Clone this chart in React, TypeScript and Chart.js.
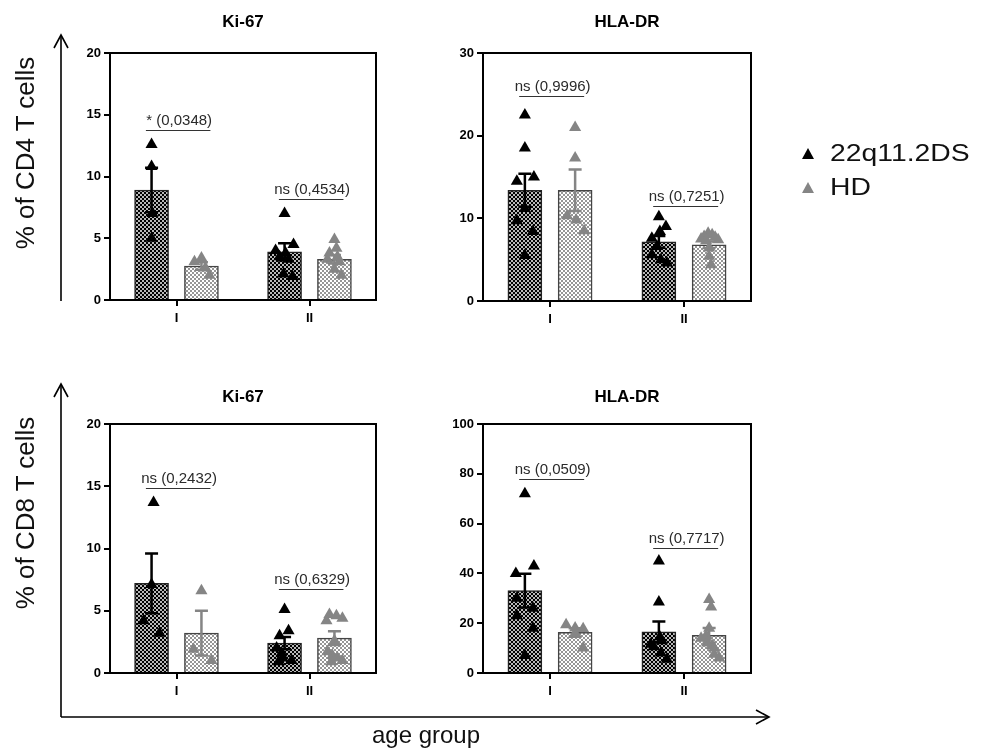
import React, { useEffect, useRef } from 'react';
import { Chart, registerables } from 'chart.js';

Chart.register(...registerables);

const FONT = "Arial, 'Liberation Sans', Helvetica, sans-serif";
Chart.defaults.font.family = FONT;

const categories = ['I', 'II'];
const seriesNames = ['22q11.2DS', 'HD'];
const colors22q = '#000000';
const colorsHD = '#858585';

// ---- CD4 Ki-67 ----
const cd4Ki67_22q_I = [12.6, 10.8, 7.0, 5.0];
const cd4Ki67_22q_II = [7.0, 4.5, 4.0, 3.8, 3.5, 3.3, 2.1, 1.9];
const cd4Ki67_HD_I = [3.4, 3.1, 2.6, 2.0];
const cd4Ki67_HD_II = [4.9, 4.2, 3.8, 3.5, 3.3, 3.1, 2.5, 2.0];
const cd4Ki67_mean22q = [8.9, 3.9];
const cd4Ki67_sem22q = [1.8, 0.7];
const cd4Ki67_meanHD = [2.75, 3.3];
const cd4Ki67_semHD = [0.3, 0.35];
const cd4Ki67_sig = ['* (0,0348)', 'ns (0,4534)'];
const cd4Ki67_sigLevel = [13.8, 8.2];

// ---- CD4 HLA-DR ----
const cd4Hla_22q_I = [22.5, 18.5, 15.0, 14.5, 11.2, 9.7, 8.4, 5.5];
const cd4Hla_22q_II = [10.2, 9.0, 8.4, 7.6, 6.6, 5.6, 5.0, 4.6];
const cd4Hla_HD_I = [21.0, 17.3, 10.3, 9.8, 8.5];
const cd4Hla_HD_II = [8.2, 8.0, 7.8, 7.7, 7.5, 7.4, 7.3, 6.4, 5.4, 4.4];
const cd4Hla_mean22q = [13.4, 7.15];
const cd4Hla_sem22q = [2.0, 0.7];
const cd4Hla_meanHD = [13.4, 6.8];
const cd4Hla_semHD = [2.5, 0.4];
const cd4Hla_sig = ['ns (0,9996)', 'ns (0,7251)'];
const cd4Hla_sigLevel = [24.8, 11.45];

// ---- CD8 Ki-67 ----
const cd8Ki67_22q_I = [13.7, 7.1, 4.2, 3.2];
const cd8Ki67_22q_II = [5.1, 3.4, 3.0, 2.0, 1.6, 1.2, 1.0, 0.9];
const cd8Ki67_HD_I = [6.6, 1.9, 1.0];
const cd8Ki67_HD_II = [4.7, 4.6, 4.4, 4.2, 2.6, 1.7, 1.4, 1.2, 1.0, 0.9];
const cd8Ki67_mean22q = [7.2, 2.4];
const cd8Ki67_sem22q = [2.4, 0.5];
const cd8Ki67_meanHD = [3.2, 2.8];
const cd8Ki67_semHD = [1.8, 0.55];
const cd8Ki67_sig = ['ns (0,2432)', 'ns (0,6329)'];
const cd8Ki67_sigLevel = [14.85, 6.75];

// ---- CD8 HLA-DR ----
const cd8Hla_22q_I = [72, 43, 40, 30, 26, 23, 18, 7];
const cd8Hla_22q_II = [45, 28.5, 14.5, 13, 11.5, 10.5, 8, 5.5];
const cd8Hla_HD_I = [19.4, 18.1, 17.8, 16.0, 10.0];
const cd8Hla_HD_II = [29.5, 26.5, 18, 15, 14, 12, 11, 10, 7.5, 6];
const cd8Hla_mean22q = [33.1, 16.5];
const cd8Hla_sem22q = [6.8, 4.2];
const cd8Hla_meanHD = [16.3, 15.1];
const cd8Hla_semHD = [1.7, 3.0];
const cd8Hla_sig = ['ns (0,0509)', 'ns (0,7717)'];
const cd8Hla_sigLevel = [78, 50.3];

// horizontal spread of overlapping points (scatter-dot layout)
const jit_cd4Ki67_22q = [[0, 0, 1, 0], [0, 9, -9, 1, -5, 4, -1, 8]];
const jit_cd4Ki67_HD = [[0, -7, 4, 8], [0, 2, -5, 3, -7, 5, 0, 7]];
const jit_cd4Hla_22q = [[0, 0, 9, -8, 0, -8, 8, 0], [0, 7, 1, -7, -2, -7, 2, 8]];
const jit_cd4Hla_HD = [[0, 0, -8, 1, 9], [-1, 3, -5, 6, -8, 9, -3, 0, 0, 2]];
const jit_cd8Ki67_22q = [[2, 0, -8, 8], [0, 4, -5, -8, -3, -2, 7, -6]];
const jit_cd8Ki67_HD = [[0, -8, 10], [-5, 2, 8, -8, 0, -7, -2, 3, 8, -3]];
const jit_cd8Hla_22q = [[0, 9, -9, -8, 8, -8, 8, 0], [0, 0, 1, 3, -8, -5, 2, 8]];
const jit_cd8Hla_HD = [[-9, 0, 8, 0, 8], [0, 2, 0, -3, -8, -2, 3, 5, 5, 10]];

const yMaxes = [20, 30, 20, 100];
const ySteps = [5, 10, 5, 20];
const titles = ['Ki-67', 'HLA-DR', 'Ki-67', 'HLA-DR'];

type PanelData = {
  title: string;
  yMax: number;
  yStep: number;
  pts22q: number[][];
  ptsHD: number[][];
  jit22q: number[][];
  jitHD: number[][];
  mean22q: number[];
  sem22q: number[];
  meanHD: number[];
  semHD: number[];
  sig: string[];
  sigLevel: number[];
};

const panelsData: PanelData[] = [
  {
    title: titles[0], yMax: yMaxes[0], yStep: ySteps[0],
    pts22q: [cd4Ki67_22q_I, cd4Ki67_22q_II], ptsHD: [cd4Ki67_HD_I, cd4Ki67_HD_II],
    jit22q: jit_cd4Ki67_22q, jitHD: jit_cd4Ki67_HD,
    mean22q: cd4Ki67_mean22q, sem22q: cd4Ki67_sem22q, meanHD: cd4Ki67_meanHD, semHD: cd4Ki67_semHD,
    sig: cd4Ki67_sig, sigLevel: cd4Ki67_sigLevel,
  },
  {
    title: titles[1], yMax: yMaxes[1], yStep: ySteps[1],
    pts22q: [cd4Hla_22q_I, cd4Hla_22q_II], ptsHD: [cd4Hla_HD_I, cd4Hla_HD_II],
    jit22q: jit_cd4Hla_22q, jitHD: jit_cd4Hla_HD,
    mean22q: cd4Hla_mean22q, sem22q: cd4Hla_sem22q, meanHD: cd4Hla_meanHD, semHD: cd4Hla_semHD,
    sig: cd4Hla_sig, sigLevel: cd4Hla_sigLevel,
  },
  {
    title: titles[2], yMax: yMaxes[2], yStep: ySteps[2],
    pts22q: [cd8Ki67_22q_I, cd8Ki67_22q_II], ptsHD: [cd8Ki67_HD_I, cd8Ki67_HD_II],
    jit22q: jit_cd8Ki67_22q, jitHD: jit_cd8Ki67_HD,
    mean22q: cd8Ki67_mean22q, sem22q: cd8Ki67_sem22q, meanHD: cd8Ki67_meanHD, semHD: cd8Ki67_semHD,
    sig: cd8Ki67_sig, sigLevel: cd8Ki67_sigLevel,
  },
  {
    title: titles[3], yMax: yMaxes[3], yStep: ySteps[3],
    pts22q: [cd8Hla_22q_I, cd8Hla_22q_II], ptsHD: [cd8Hla_HD_I, cd8Hla_HD_II],
    jit22q: jit_cd8Hla_22q, jitHD: jit_cd8Hla_HD,
    mean22q: cd8Hla_mean22q, sem22q: cd8Hla_sem22q, meanHD: cd8Hla_meanHD, semHD: cd8Hla_semHD,
    sig: cd8Hla_sig, sigLevel: cd8Hla_sigLevel,
  },
];

// plot-area boxes (page pixels)
const panelBoxes = [
  { left: 110, top: 53, right: 376, bottom: 300, titleGap: 31, titleDx: 0 },
  { left: 483, top: 53, right: 751, bottom: 301, titleGap: 31, titleDx: 10 },
  { left: 110, top: 424, right: 376, bottom: 673, titleGap: 27, titleDx: 0 },
  { left: 483, top: 424, right: 751, bottom: 673, titleGap: 27, titleDx: 10 },
];

const PAD_LEFT = 50;
const PAD_TOP = 45;
const PAD_RIGHT = 12;
const PAD_BOTTOM = 34;
const CAT_PX = 133.5;
const GROUP_OFFSET = 0.1875;
const BAR_WIDTH = 34;

function makePattern(fg: string, bg: string): CanvasPattern | string {
  const c = document.createElement('canvas');
  c.width = 4;
  c.height = 4;
  const g = c.getContext('2d');
  if (!g) return fg;
  g.fillStyle = bg;
  g.fillRect(0, 0, 4, 4);
  g.fillStyle = fg;
  g.fillRect(0, 0, 2, 2);
  g.fillRect(2, 2, 2, 2);
  const p = g.createPattern(c, 'repeat');
  return p || fg;
}

const errorBarPlugin = {
  id: 'errorBars',
  afterDatasetDraw(chart: any, args: any) {
    const ds = chart.data.datasets[args.index];
    if (!ds.sem) return;
    const meta = chart.getDatasetMeta(args.index);
    const y = chart.scales.y;
    const ctx = chart.ctx;
    ctx.save();
    ctx.strokeStyle = ds.errColor;
    ctx.lineWidth = 2.5;
    meta.data.forEach((el: any, j: number) => {
      const m = ds.data[j].y;
      const s = ds.sem[j];
      const yt = y.getPixelForValue(m + s);
      const yb = y.getPixelForValue(m - s);
      const x = el.x;
      ctx.beginPath();
      ctx.moveTo(x, yt);
      ctx.lineTo(x, yb);
      ctx.moveTo(x - 6.5, yt);
      ctx.lineTo(x + 6.5, yt);
      ctx.moveTo(x - 6.5, yb);
      ctx.lineTo(x + 6.5, yb);
      ctx.stroke();
    });
    ctx.restore();
  },
};

const decorPlugin = {
  id: 'decor',
  afterDraw(chart: any) {
    const o = chart.options.plugins.decor;
    const { ctx, chartArea } = chart;
    const y = chart.scales.y;
    const x = chart.scales.x;
    ctx.save();
    // frame
    ctx.strokeStyle = '#000';
    ctx.lineWidth = 2;
    ctx.strokeRect(chartArea.left, chartArea.top, chartArea.right - chartArea.left, chartArea.bottom - chartArea.top);
    // title
    ctx.fillStyle = '#000';
    ctx.font = `bold 17px ${FONT}`;
    ctx.textAlign = 'center';
    ctx.textBaseline = 'middle';
    ctx.fillText(o.title, (chartArea.left + chartArea.right) / 2 + o.titleDx, chartArea.top - o.titleGap);
    // significance
    o.sig.forEach((label: string, j: number) => {
      const yy = Math.round(y.getPixelForValue(o.sigLevel[j])) + 0.5;
      const xa = x.getPixelForValue(j - 0.23);
      const xb = x.getPixelForValue(j + 0.255);
      ctx.strokeStyle = '#333';
      ctx.lineWidth = 1.2;
      ctx.beginPath();
      ctx.moveTo(xa, yy);
      ctx.lineTo(xb, yy);
      ctx.stroke();
      ctx.fillStyle = '#2a2a2a';
      ctx.font = `15px ${FONT}`;
      ctx.textAlign = 'center';
      ctx.textBaseline = 'alphabetic';
      ctx.fillText(label, x.getPixelForValue(j + 0.02), yy - 6);
    });
    ctx.restore();
  },
};

function Panel({ data, box }: { data: PanelData; box: typeof panelBoxes[number] }) {
  const ref = useRef<HTMLCanvasElement | null>(null);
  const W = box.right - box.left + PAD_LEFT + PAD_RIGHT;
  const H = box.bottom - box.top + PAD_TOP + PAD_BOTTOM;

  useEffect(() => {
    if (!ref.current) return;
    const toPts = (groups: number[][], jit: number[][], side: number) =>
      groups.flatMap((vals, c) =>
        vals.map((v, k) => ({ x: c + side * GROUP_OFFSET + (jit[c][k] || 0) / CAT_PX, y: v }))
      );
    const toBars = (means: number[], side: number) =>
      means.map((m, c) => ({ x: c + side * GROUP_OFFSET, y: m }));
    const chart = new Chart(ref.current, {
      type: 'bar',
      data: {
        datasets: [
          {
            type: 'bar',
            label: seriesNames[0],
            data: toBars(data.mean22q, -1),
            sem: data.sem22q,
            errColor: colors22q,
            backgroundColor: makePattern('#000000', '#b8b8b8'),
            borderColor: '#222',
            borderWidth: 1.5,
            grouped: false,
            barThickness: BAR_WIDTH,
            order: 3,
          } as any,
          {
            type: 'bar',
            label: seriesNames[1],
            data: toBars(data.meanHD, 1),
            sem: data.semHD,
            errColor: colorsHD,
            backgroundColor: makePattern('#969696', '#ffffff'),
            borderColor: '#444',
            borderWidth: 1.5,
            grouped: false,
            barThickness: BAR_WIDTH,
            order: 2,
          } as any,
          {
            type: 'scatter',
            label: seriesNames[0] + ' points',
            data: toPts(data.pts22q, data.jit22q, -1),
            pointStyle: 'triangle',
            pointRadius: 7,
            backgroundColor: colors22q,
            borderColor: colors22q,
            borderWidth: 0,
            order: 1,
          } as any,
          {
            type: 'scatter',
            label: seriesNames[1] + ' points',
            data: toPts(data.ptsHD, data.jitHD, 1),
            pointStyle: 'triangle',
            pointRadius: 7,
            backgroundColor: colorsHD,
            borderColor: colorsHD,
            borderWidth: 0,
            order: 0,
          } as any,
        ],
      },
      options: {
        responsive: false,
        animation: false,
        devicePixelRatio: 1,
        layout: { padding: { top: PAD_TOP, right: PAD_RIGHT, left: 0, bottom: 0 } },
        plugins: {
          legend: { display: false },
          tooltip: { enabled: false },
          decor: { title: data.title, titleGap: box.titleGap, titleDx: box.titleDx, sig: data.sig, sigLevel: data.sigLevel },
        } as any,
        scales: {
          x: {
            type: 'linear',
            min: -0.5,
            max: 1.5,
            offset: false,
            afterBuildTicks: (axis: any) => {
              axis.ticks = categories.map((_, i) => ({ value: i }));
            },
            grid: { display: true, offset: false, drawOnChartArea: false, drawTicks: true, tickLength: 6, color: '#000', lineWidth: 2 },
            border: { display: true, color: '#000', width: 2 },
            ticks: {
              color: '#000',
              font: { size: 13, weight: 'bold' },
              padding: 5,
              autoSkip: false,
              maxRotation: 0,
              callback: (v: any) => categories[Math.round(Number(v))] ?? '',
            },
            afterFit: (s: any) => { s.height = PAD_BOTTOM; },
          },
          y: {
            type: 'linear',
            min: 0,
            max: data.yMax,
            grid: { display: true, drawOnChartArea: false, drawTicks: true, tickLength: 6, color: '#000', lineWidth: 2 },
            border: { display: true, color: '#000', width: 2 },
            ticks: { stepSize: data.yStep, color: '#000', font: { size: 13, weight: 'bold' }, padding: 3 },
            afterFit: (s: any) => { s.width = PAD_LEFT; },
          },
        },
      } as any,
      plugins: [errorBarPlugin, decorPlugin],
    });
    return () => chart.destroy();
  }, []);

  return (
    <canvas
      ref={ref}
      width={W}
      height={H}
      style={{ position: 'absolute', left: box.left - PAD_LEFT, top: box.top - PAD_TOP, width: W, height: H }}
    />
  );
}

function Triangle({ color }: { color: string }) {
  return (
    <svg width="14" height="13" style={{ display: 'block' }}>
      <polygon points="7,1 13,12 1,12" fill={color} />
    </svg>
  );
}

export default function App() {
  useEffect(() => {
    document.body.style.margin = '0';
  }, []);
  const labelStyle: React.CSSProperties = {
    position: 'absolute',
    fontFamily: FONT,
    fontSize: 26,
    color: '#111',
    whiteSpace: 'nowrap',
  };
  return (
    <div style={{ position: 'absolute', left: 0, top: 0, width: 989, height: 748, background: '#fff', overflow: 'hidden' }}>
      {panelsData.map((d, i) => (
        <Panel key={i} data={d} box={panelBoxes[i]} />
      ))}
      <svg width={989} height={748} style={{ position: 'absolute', left: 0, top: 0 }}>
        <g stroke="#000" strokeWidth={1.6} fill="none">
          <line x1={61} y1={301} x2={61} y2={35} />
          <polyline points="54,48 61,35 68,48" />
          <line x1={61} y1={717} x2={61} y2={384} />
          <polyline points="54,397 61,384 68,397" />
          <line x1={61} y1={717} x2={769} y2={717} />
          <polyline points="756,710 769,717 756,724" />
        </g>
      </svg>
      <div style={{ ...labelStyle, left: 25, top: 153, transform: 'translate(-50%, -50%) rotate(-90deg)' }}>% of CD4 T cells</div>
      <div style={{ ...labelStyle, left: 25, top: 513, transform: 'translate(-50%, -50%) rotate(-90deg)' }}>% of CD8 T cells</div>
      <div style={{ ...labelStyle, fontSize: 24, left: 426, top: 735, transform: 'translate(-50%, -50%)' }}>age group</div>
      <div style={{ position: 'absolute', left: 801, top: 136, fontFamily: FONT, fontSize: 24, color: '#111' }}>
        <div style={{ display: 'flex', alignItems: 'center', height: 34 }}>
          <Triangle color={colors22q} />
          <span style={{ marginLeft: 15, display: 'inline-block', transform: 'scaleX(1.18)', transformOrigin: 'left center' }}>{seriesNames[0]}</span>
        </div>
        <div style={{ display: 'flex', alignItems: 'center', height: 34 }}>
          <Triangle color={colorsHD} />
          <span style={{ marginLeft: 15, display: 'inline-block', transform: 'scaleX(1.18)', transformOrigin: 'left center' }}>{seriesNames[1]}</span>
        </div>
      </div>
    </div>
  );
}
